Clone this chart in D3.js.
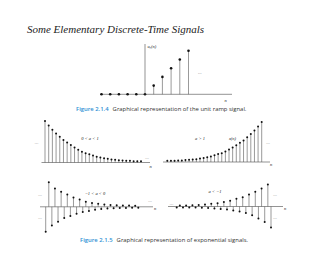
<!DOCTYPE html>
<html>
<head>
<meta charset="utf-8">
<script src="https://cdn.jsdelivr.net/npm/d3@7"></script>
<style>
  html, body { margin: 0; padding: 0; background: #fff; }
  svg { display: block; }
  .serif { font-family: "Liberation Serif", "DejaVu Serif", serif; font-style: italic; }
  .sans { font-family: "Open Sans", "Liberation Sans", sans-serif; }
</style>
</head>
<body>
<div id="chart"></div>
<script>
// Elementary discrete-time signals: unit ramp + four exponential cases

const rampN = [-5, -4, -3, -2, -1, 0, 1, 2, 3, 4, 5];
const rampValues = [0, 0, 0, 0, 0, 0, 1, 2, 3, 4, 5];

// 0 < a < 1
const decayValues = [1.00, 0.89, 0.79, 0.70, 0.62, 0.54, 0.48, 0.42, 0.36, 0.31, 0.26, 0.22, 0.20,
    0.17, 0.14, 0.12, 0.10, 0.09, 0.07, 0.065, 0.055, 0.05, 0.04, 0.04, 0.03, 0.03, 0.03];

// a > 1
const growValues = [0.03, 0.03, 0.03, 0.04, 0.04, 0.05, 0.055, 0.065, 0.07, 0.09, 0.10, 0.12, 0.14,
    0.17, 0.20, 0.22, 0.26, 0.31, 0.36, 0.42, 0.48, 0.54, 0.62, 0.70, 0.79, 0.89, 1.00];

// -1 < a < 0
const altDecayValues = [-1.00, 0.98, -0.75, 0.73, -0.60, 0.60, -0.45, 0.49, -0.37, 0.37, -0.28, 0.29,
    -0.21, 0.20, -0.17, 0.15, -0.12, 0.12, -0.09, 0.09, -0.07, 0.07, -0.06, 0.06, -0.05, 0.05,
    -0.05, 0.05, -0.04, 0.04, -0.04];

// a < -1
const altGrowValues = [-0.04, 0.04, -0.04, 0.05, -0.05, 0.06, -0.05, 0.07, -0.06, 0.09, -0.07, 0.12,
    -0.09, 0.15, -0.11, 0.20, -0.14, 0.26, -0.18, 0.35, -0.23, 0.42, -0.30, 0.55, -0.40, 0.67,
    -0.55, 0.82, -0.70, 1.00, -0.95];

const titleText = 'Some Elementary Discrete-Time Signals';
const captions = [
    { fig: 'Figure 2.1.4', text: 'Graphical representation of the unit ramp signal.' },
    { fig: 'Figure 2.1.5', text: 'Graphical representation of exponential signals.' }
];

const W = 320, H = 256;
const svg = d3.select('#chart').append('svg').attr('width', W).attr('height', H);

const ink = '#222';
const stemColor = '#555';

// Draws one stem plot; x is index-based, y maps value -> px
function stemPanel(opts) {
    const { values, xs, xRange, base, unit, axis } = opts;
    const x = d3.scaleLinear().domain(d3.extent(xs)).range(xRange);
    const y = d3.scaleLinear().domain([0, 1]).range([base, base - unit]);
    const g = svg.append('g');

    g.append('line')
        .attr('x1', axis[0]).attr('x2', axis[1])
        .attr('y1', y(0)).attr('y2', y(0))
        .attr('stroke', '#666').attr('stroke-width', 0.7);

    const pts = values.map((v, i) => ({ n: xs[i], v }));
    g.selectAll('.stem').data(pts).enter().append('line')
        .attr('x1', d => x(d.n)).attr('x2', d => x(d.n))
        .attr('y1', y(0)).attr('y2', d => y(d.v))
        .attr('stroke', stemColor).attr('stroke-width', 0.6);

    g.selectAll('.dot').data(pts).enter().append('circle')
        .attr('cx', d => x(d.n)).attr('cy', d => y(d.v))
        .attr('r', opts.r || 1.0).attr('fill', '#111');
    return { g, x, y };
}

const idx = n => d3.range(n);

// Title
svg.append('text').attr('class', 'serif')
    .attr('x', 27).attr('y', 33)
    .attr('font-size', 11).attr('fill', ink)
    .text(titleText);

// Unit ramp
const ramp = stemPanel({
    values: rampValues, xs: rampN, xRange: [101.5, 188.5],
    base: 94.3, unit: 8.7, axis: [100, 232], r: 1.3
});
svg.append('line')
    .attr('x1', ramp.x(0)).attr('x2', ramp.x(0))
    .attr('y1', 44).attr('y2', ramp.y(0))
    .attr('stroke', '#666').attr('stroke-width', 0.7);
svg.append('text').attr('class', 'serif')
    .attr('x', 147.5).attr('y', 48).attr('font-size', 4.5).attr('fill', ink)
    .text('u').append('tspan').attr('font-size', 3).attr('dy', 1).text('r')
    .select(function () { return this.parentNode; })
    .append('tspan').attr('dy', -1).text('(n)');
svg.append('text').attr('class', 'serif')
    .attr('x', 198).attr('y', 74).attr('font-size', 5).attr('fill', '#666').text('...');
svg.append('text').attr('class', 'serif')
    .attr('x', 224.5).attr('y', 102).attr('font-size', 4.5).attr('fill', ink).text('n');

// Captions
function caption(c, xPos, yPos) {
    const t = svg.append('text').attr('class', 'sans')
        .attr('x', xPos).attr('y', yPos).attr('font-size', 5.9);
    t.append('tspan').attr('fill', '#2e8fd4').attr('font-weight', 600).text(c.fig);
    t.append('tspan').attr('fill', '#333').attr('dx', 4).text(c.text);
}
caption(captions[0], 76, 110.5);
caption(captions[1], 80, 242);

// 0 < a < 1
stemPanel({ values: decayValues, xs: idx(decayValues.length), xRange: [45, 141],
    base: 162.5, unit: 41.5, axis: [41.5, 150] });
// a > 1
stemPanel({ values: growValues, xs: idx(growValues.length), xRange: [167.3, 261.7],
    base: 162, unit: 40, axis: [163, 270] });
// -1 < a < 0
stemPanel({ values: altDecayValues, xs: idx(altDecayValues.length), xRange: [45.7, 138.3],
    base: 206.8, unit: 25, axis: [40, 153] });
// a < -1
stemPanel({ values: altGrowValues, xs: idx(altGrowValues.length), xRange: [176.7, 271],
    base: 206.5, unit: 22, axis: [168, 283] });

// Panel annotations
const notes = [
    { x: 90, y: 139.5, t: '0 < a < 1' },
    { x: 200, y: 139.5, t: 'a > 1' },
    { x: 232.5, y: 139.5, t: 'x(n)' },
    { x: 95, y: 194.5, t: '\u22121 < a < 0' },
    { x: 215, y: 192.5, t: 'a < \u22121' },
    { x: 150.5, y: 168, t: 'n' },
    { x: 271, y: 166, t: 'n' },
    { x: 155, y: 210, t: 'n' },
    { x: 285, y: 210, t: 'n' }
];
svg.selectAll('.note').data(notes).enter().append('text')
    .attr('class', 'serif')
    .attr('x', d => d.x).attr('y', d => d.y)
    .attr('text-anchor', 'middle')
    .attr('font-size', 4.5).attr('fill', ink)
    .text(d => d.t);

const ellipses = [
    [36.5, 144], [147, 159], [268, 144],
    [40, 196], [40, 219], [150, 202],
    [171.5, 205], [275, 196], [275, 219]
];
svg.selectAll('.ell').data(ellipses).enter().append('text')
    .attr('class', 'serif')
    .attr('x', d => d[0]).attr('y', d => d[1])
    .attr('text-anchor', 'middle')
    .attr('font-size', 5).attr('fill', '#777')
    .text('...');
</script>
</body>
</html>
